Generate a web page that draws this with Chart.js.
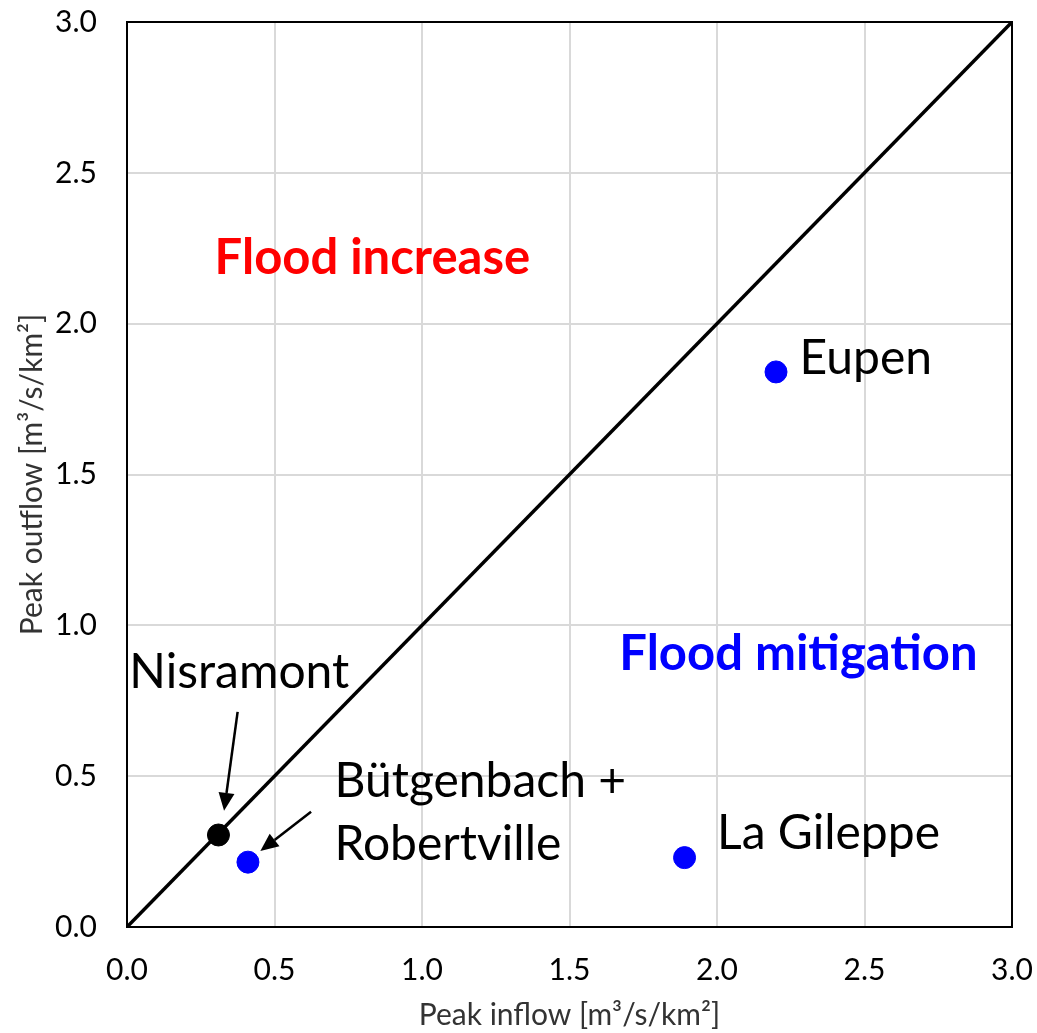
<!DOCTYPE html>
<html>
<head>
<meta charset="utf-8">
<script src="https://cdn.jsdelivr.net/npm/chart.js@4/dist/chart.umd.min.js"></script>
<style>
  html, body { margin: 0; padding: 0; background: #fff; }
  #wrap { width: 1037px; height: 1033px; }
</style>
</head>
<body>
<div id="wrap"><canvas id="myChart"></canvas></div>
<script>
// reservoirs: peak inflow vs peak outflow (m3/s/km2)
const siteNames = ['Eupen', 'La Gileppe', 'Bütgenbach + Robertville', 'Nisramont'];
const peakInflow = [2.2, 1.89, 0.41, 0.31];
const peakOutflow = [1.84, 0.23, 0.215, 0.305];
const siteColors = ['#0000ff', '#0000ff', '#0000ff', '#000000'];
const oneToOne = [0, 3];
const axisTicks = [0, 0.5, 1.0, 1.5, 2.0, 2.5, 3.0];

const FONT = 'Lato, "Open Sans", sans-serif';

// text placed in data units (left edge, baseline)
const notes = [
  {text: 'Flood increase', x: 0.297, y: 2.164, color: '#ff0000', bold: true},
  {text: 'Flood mitigation', x: 1.669, y: 0.852, color: '#0000ff', bold: true},
  {text: 'Eupen', x: 2.28, y: 1.833, color: '#000'},
  {text: 'Nisramont', x: 0.008, y: 0.792, color: '#000'},
  {text: 'Bütgenbach +', x: 0.703, y: 0.431, color: '#000'},
  {text: 'Robertville', x: 0.703, y: 0.222, color: '#000'},
  {text: 'La Gileppe', x: 2.0, y: 0.259, color: '#000'}
];
const arrows = [
  {from: [0.375, 0.713], to: [0.329, 0.385]},
  {from: [0.624, 0.382], to: [0.452, 0.252]}
];

const overlay = {
  id: 'overlay',
  afterDatasetsDraw(chart) {
    const ctx = chart.ctx;
    const xs = chart.scales.x, ys = chart.scales.y;
    const a = chart.chartArea;
    ctx.save();
    ctx.strokeStyle = '#000';
    ctx.lineWidth = 2;
    ctx.strokeRect(a.left, a.top, a.right - a.left, a.bottom - a.top);

    ctx.textBaseline = 'alphabetic';
    ctx.textAlign = 'left';
    notes.forEach(n => {
      ctx.font = n.bold ? 'bold 49px ' + FONT : '48px ' + FONT;
      ctx.fillStyle = n.color;
      ctx.fillText(n.text, xs.getPixelForValue(n.x), ys.getPixelForValue(n.y));
    });

    ctx.strokeStyle = '#000';
    ctx.fillStyle = '#000';
    ctx.lineWidth = 2.5;
    arrows.forEach(ar => {
      const x1 = xs.getPixelForValue(ar.from[0]), y1 = ys.getPixelForValue(ar.from[1]);
      const x2 = xs.getPixelForValue(ar.to[0]), y2 = ys.getPixelForValue(ar.to[1]);
      const ang = Math.atan2(y2 - y1, x2 - x1);
      const len = 18, w = 8;
      const bx = x2 - len * Math.cos(ang), by = y2 - len * Math.sin(ang);
      ctx.beginPath();
      ctx.moveTo(x1, y1);
      ctx.lineTo(bx, by);
      ctx.stroke();
      ctx.beginPath();
      ctx.moveTo(x2, y2);
      ctx.lineTo(bx + w * Math.sin(ang), by - w * Math.cos(ang));
      ctx.lineTo(bx - w * Math.sin(ang), by + w * Math.cos(ang));
      ctx.closePath();
      ctx.fill();
    });
    ctx.restore();
  }
};

const ctx = document.getElementById('myChart').getContext('2d');
const myChart = new Chart(ctx, {
  type: 'scatter',
  data: {
    datasets: [
      {
        label: '1:1',
        type: 'line',
        data: oneToOne.map(v => ({x: v, y: v})),
        borderColor: '#000',
        borderWidth: 3.5,
        pointRadius: 0,
        fill: false
      },
      {
        label: 'Reservoirs',
        data: peakInflow.map((v, i) => ({x: v, y: peakOutflow[i], name: siteNames[i]})),
        backgroundColor: siteColors,
        borderColor: siteColors,
        pointRadius: 11,
        pointHoverRadius: 11
      }
    ]
  },
  options: {
    responsive: true,
    maintainAspectRatio: false,
    animation: false,
    layout: {padding: 0},
    plugins: {legend: {display: false}, tooltip: {enabled: false}},
    scales: {
      x: {
        type: 'linear', min: 0, max: 3,
        afterBuildTicks: axis => { axis.ticks = axisTicks.map(v => ({value: v})); },
        afterFit: axis => { axis.height = 106; axis.paddingRight = 25; axis.paddingLeft = 0; },
        ticks: {color: '#000', font: {family: FONT, size: 30}, padding: 25, callback: v => v.toFixed(1)},
        grid: {color: '#d9d9d9', lineWidth: 2, drawTicks: false},
        border: {display: false},
        title: {display: true, text: 'Peak inflow [m³/s/km²]', color: '#333', font: {family: FONT, size: 30}, padding: {top: 0, bottom: 0}}
      },
      y: {
        type: 'linear', min: 0, max: 3,
        afterBuildTicks: axis => { axis.ticks = axisTicks.map(v => ({value: v})); },
        afterFit: axis => { axis.width = 127; axis.paddingTop = 22; axis.paddingBottom = 0; },
        ticks: {color: '#000', font: {family: FONT, size: 30}, padding: 30, callback: v => v.toFixed(1)},
        grid: {color: '#d9d9d9', lineWidth: 2, drawTicks: false},
        border: {display: false},
        title: {display: true, text: 'Peak outflow [m³/s/km²]', color: '#333', font: {family: FONT, size: 30}, padding: {top: 14, bottom: 0}}
      }
    }
  },
  plugins: [overlay]
});
</script>
</body>
</html>
